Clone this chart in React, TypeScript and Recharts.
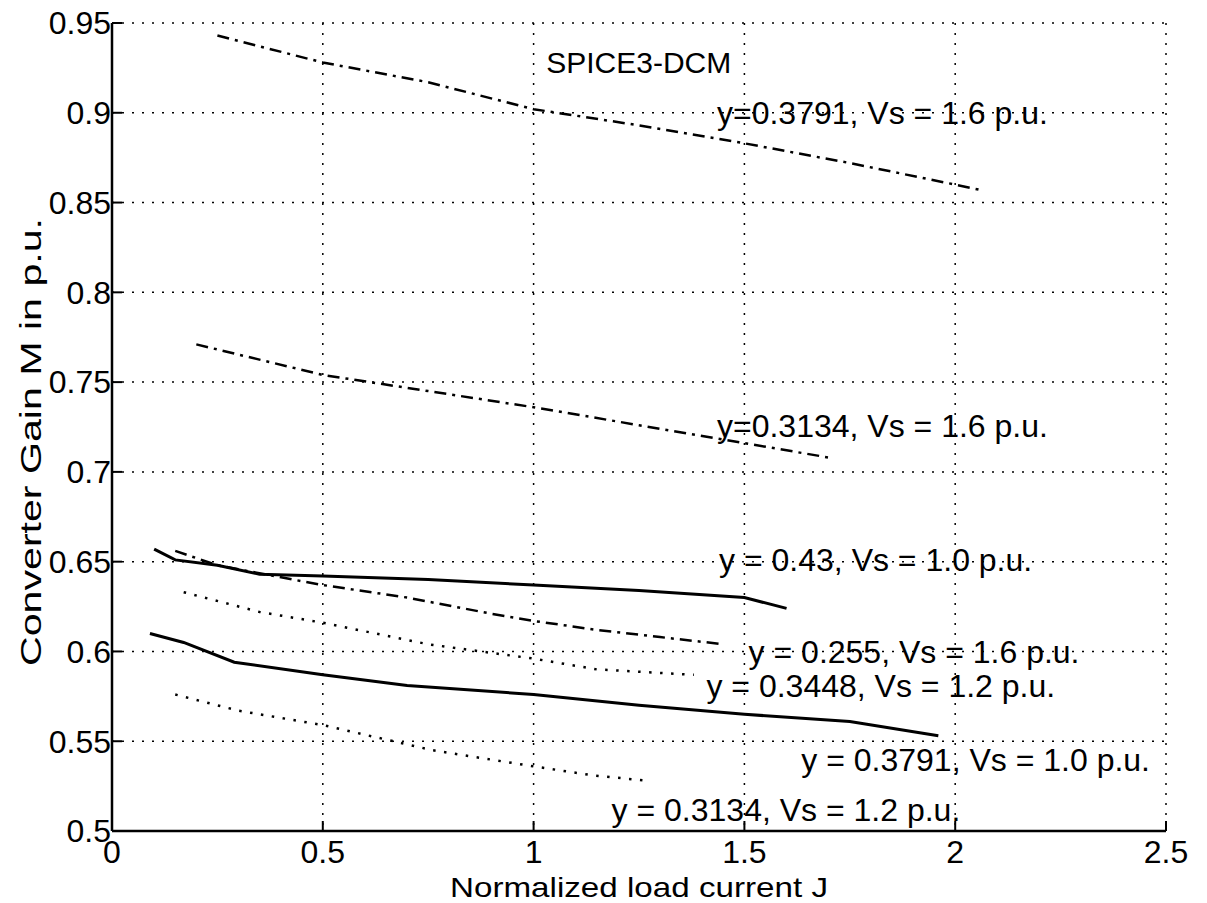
import React from 'react';
import { LineChart, Line, XAxis, YAxis, CartesianGrid, ReferenceDot } from 'recharts';

// J values and gain M for each curve
const aX = [0.25, 0.5, 0.75, 1.0, 1.25, 1.5, 1.75, 2.0, 2.06];
const aY = [0.943, 0.928, 0.917, 0.902, 0.893, 0.883, 0.872, 0.86, 0.857];

const bX = [0.2, 0.5, 0.75, 1.0, 1.25, 1.5, 1.7];
const bY = [0.771, 0.754, 0.745, 0.736, 0.726, 0.716, 0.708];

const cX = [0.1, 0.15, 0.25, 0.35, 0.5, 0.75, 1.0, 1.25, 1.5, 1.6];
const cY = [0.657, 0.651, 0.648, 0.643, 0.642, 0.64, 0.637, 0.634, 0.63, 0.624];

const dX = [0.15, 0.25, 0.43, 0.5, 0.7, 0.9, 1.0, 1.15, 1.3, 1.45];
const dY = [0.656, 0.648, 0.64, 0.637, 0.63, 0.621, 0.617, 0.612, 0.608, 0.604];

const eX = [0.17, 0.35, 0.5, 0.75, 1.0, 1.15, 1.38];
const eY = [0.633, 0.622, 0.616, 0.604, 0.596, 0.59, 0.587];

const fX = [0.09, 0.17, 0.29, 0.5, 0.7, 1.0, 1.25, 1.5, 1.75, 1.96];
const fY = [0.61, 0.605, 0.594, 0.587, 0.581, 0.576, 0.57, 0.565, 0.561, 0.553];

const gX = [0.15, 0.3, 0.5, 0.63, 0.76, 1.0, 1.14, 1.27];
const gY = [0.576, 0.567, 0.559, 0.552, 0.545, 0.536, 0.531, 0.528];

const xTicks = [0, 0.5, 1, 1.5, 2, 2.5];
const yTicks = [0.5, 0.55, 0.6, 0.65, 0.7, 0.75, 0.8, 0.85, 0.9, 0.95];

// curve annotations (left edge of text, vertical centre)
const noteText = [
  'SPICE3-DCM',
  'y=0.3791, Vs = 1.6 p.u.',
  'y=0.3134, Vs = 1.6 p.u.',
  'y = 0.43, Vs = 1.0 p.u.',
  'y = 0.255, Vs = 1.6 p.u.',
  'y = 0.3448, Vs = 1.2 p.u.',
  'y = 0.3791, Vs = 1.0 p.u.',
  'y = 0.3134, Vs = 1.2 p.u.',
];
const noteX = [1.03, 1.435, 1.435, 1.44, 1.51, 1.41, 1.635, 1.185];
const noteY = [0.928, 0.9, 0.726, 0.651, 0.6, 0.581, 0.54, 0.512];

const toPoints = (xs: number[], ys: number[]) => xs.map((x, i) => ({ x, y: ys[i] }));

const FONT = '"Liberation Sans", Arial, Helvetica, sans-serif';
const DASHDOT = '12 6 3 6';

const series = [
  { key: 'a', data: toPoints(aX, aY), dash: DASHDOT, width: 2.5 },
  { key: 'b', data: toPoints(bX, bY), dash: DASHDOT, width: 2.5 },
  { key: 'c', data: toPoints(cX, cY), dash: undefined, width: 3 },
  { key: 'd', data: toPoints(dX, dY), dash: DASHDOT, width: 2.5 },
  { key: 'e', data: toPoints(eX, eY), dash: '2.5 8.5', width: 2.5 },
  { key: 'f', data: toPoints(fX, fY), dash: undefined, width: 3 },
  { key: 'g', data: toPoints(gX, gY), dash: '2.5 8.5', width: 2.5 },
];

export default function App() {
  const tickStyle = { fill: '#000', fontSize: 32, fontFamily: FONT };
  return (
    <div style={{ position: 'absolute', left: 0, top: 0, background: '#fff' }}>
      <LineChart width={1207} height={903} margin={{ top: 23, right: 41, left: 12, bottom: 32 }}>
        <CartesianGrid stroke="#000" strokeWidth={1.5} strokeDasharray="2 8" />
        <XAxis
          dataKey="x"
          type="number"
          domain={[0, 2.5]}
          ticks={xTicks}
          height={40}
          axisLine={{ stroke: '#000', strokeWidth: 2.5 }}
          tickLine={{ stroke: '#000', strokeWidth: 2 }}
          tickSize={-10}
          tickMargin={19}
          tick={tickStyle}
          label={{
            content: () => (
              <text x={639} y={887} textAnchor="middle" dominantBaseline="central" fill="#000"
                fontSize={28} fontFamily={FONT} textLength={378} lengthAdjust="spacingAndGlyphs">
                Normalized load current J
              </text>
            ),
          }}
        />
        <XAxis
          xAxisId="top"
          orientation="top"
          dataKey="x"
          type="number"
          domain={[0, 2.5]}
          ticks={xTicks}
          height={0}
          axisLine={{ stroke: '#000', strokeWidth: 2.5 }}
          tickLine={{ stroke: '#000', strokeWidth: 2 }}
          tickSize={-10}
          tick={false}
        />
        <YAxis
          type="number"
          domain={[0.5, 0.95]}
          ticks={yTicks}
          width={100}
          axisLine={{ stroke: '#000', strokeWidth: 2.5 }}
          tickLine={{ stroke: '#000', strokeWidth: 2 }}
          tickSize={-10}
          tickMargin={11}
          tick={tickStyle}
          label={{
            content: () => (
              <text x={30} y={442} transform="rotate(-90 30 442)" textAnchor="middle" dominantBaseline="central"
                fill="#000" fontSize={30} fontFamily={FONT} textLength={448} lengthAdjust="spacingAndGlyphs">
                Converter Gain M in p.u.
              </text>
            ),
          }}
        />
        <YAxis
          yAxisId="right"
          orientation="right"
          type="number"
          domain={[0.5, 0.95]}
          ticks={yTicks}
          width={0}
          axisLine={{ stroke: '#000', strokeWidth: 2.5 }}
          tickLine={{ stroke: '#000', strokeWidth: 2 }}
          tickSize={-10}
          tick={false}
        />
        {series.map((s) => (
          <Line
            key={s.key}
            data={s.data}
            dataKey="y"
            type="linear"
            stroke="#000"
            strokeWidth={s.width}
            strokeDasharray={s.dash}
            dot={false}
            activeDot={false}
            isAnimationActive={false}
          />
        ))}
        {noteText.map((t, i) => (
          <ReferenceDot
            key={t}
            x={noteX[i]}
            y={noteY[i]}
            r={0}
            fill="none"
            stroke="none"
            label={{ value: t, position: 'right', offset: 0, fill: '#000', fontSize: i === 0 ? 30 : 32, fontFamily: FONT }}
          />
        ))}
      </LineChart>
    </div>
  );
}
